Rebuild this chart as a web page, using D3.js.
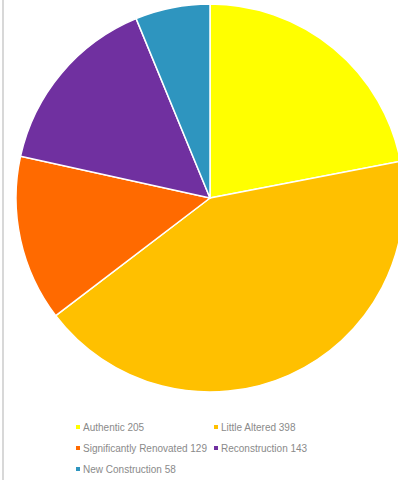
<!DOCTYPE html>
<html lang="en">
<head>
<meta charset="UTF-8">
<title>Pie</title>
<script src="https://d3js.org/d3.v7.min.js"></script>
<style>
  body { margin: 0; background: #fff; }
  svg { display: block; }
</style>
</head>
<body>
<svg></svg>
<script>
const categories = ["Authentic", "Little Altered", "Significantly Renovated", "Reconstruction", "New Construction"];
const counts = [205, 398, 129, 143, 58];
const colors = ["#FFFF00", "#FFC000", "#FF6A00", "#7030A0", "#2E95BF"];

const width = 398, height = 480;
const svg = d3.select("svg").attr("width", width).attr("height", height);

// faint frame line on the left edge
svg.append("line")
    .attr("x1", 3).attr("x2", 3).attr("y1", 0).attr("y2", height)
    .attr("stroke", "#d8d8d8").attr("stroke-width", 2);

const cx = 210, cy = 198, r = 194;

const pie = d3.pie().sort(null).value(d => d.value);
const arc = d3.arc().innerRadius(0).outerRadius(r);
const color = d3.scaleOrdinal().domain(categories).range(colors);

const data = categories.map((c, i) => ({ name: c, value: counts[i] }));

svg.append("g")
    .attr("transform", `translate(${cx},${cy})`)
  .selectAll("path")
  .data(pie(data))
  .join("path")
    .attr("d", arc)
    .attr("fill", d => color(d.data.name))
    .attr("stroke", "#fff")
    .attr("stroke-width", 1.5);

// legend, two columns
const legX = [78, 216], legY = [427, 448, 469];
const leg = svg.append("g")
    .selectAll("g")
    .data(data)
    .join("g")
    .attr("transform", (d, i) => `translate(${legX[i % 2]},${legY[Math.floor(i / 2)]})`);

leg.append("rect")
    .attr("x", -2).attr("y", -2)
    .attr("width", 4).attr("height", 4)
    .attr("fill", d => color(d.name));

leg.append("text")
    .attr("x", 5)
    .attr("dy", "0.35em")
    .style("font-family", "'Liberation Sans', sans-serif")
    .style("font-size", "10px")
    .attr("fill", "#8a8a8a")
    .text(d => `${d.name} ${d.value}`);
</script>
</body>
</html>
